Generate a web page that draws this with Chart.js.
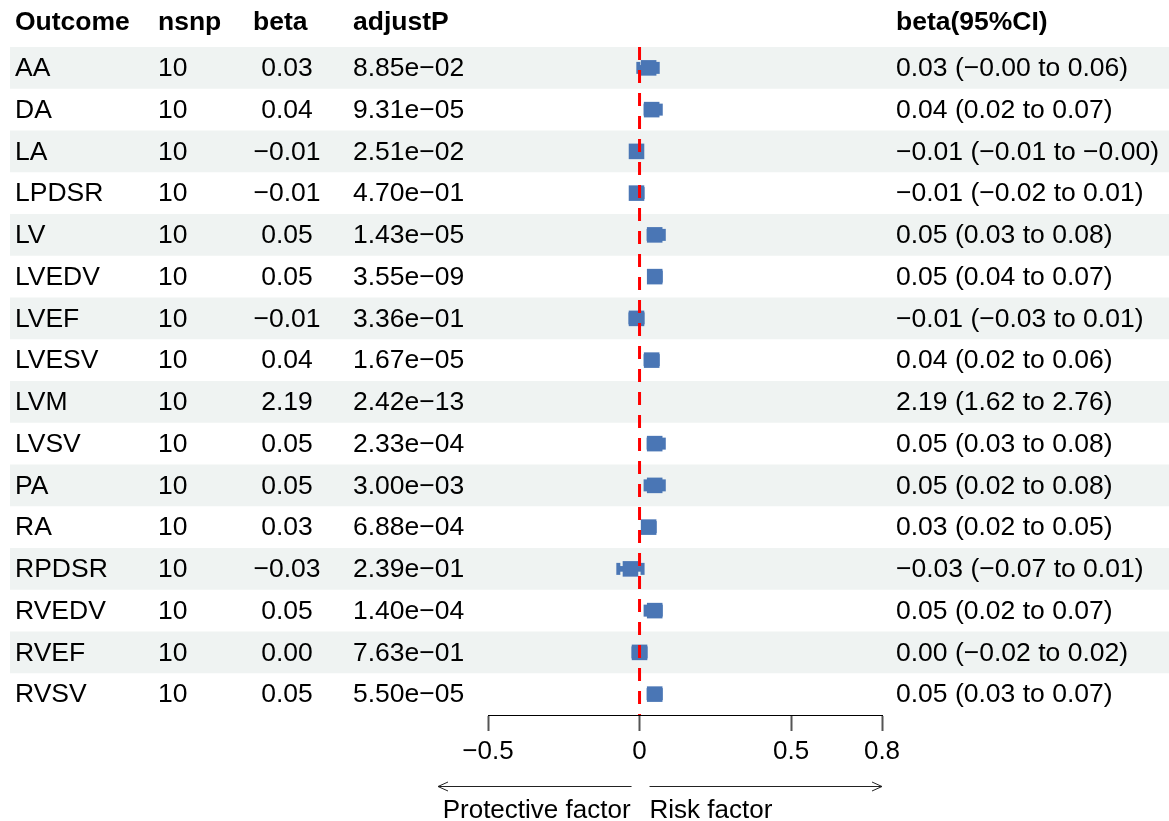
<!DOCTYPE html>
<html>
<head>
<meta charset="utf-8">
<script src="https://cdn.jsdelivr.net/npm/chart.js@4/dist/chart.umd.min.js"></script>
<style>
  html, body { margin: 0; padding: 0; background: #ffffff; }
  #wrap { width: 1169px; height: 821px; }
</style>
</head>
<body>
<div id="wrap"><canvas id="forest" width="1169" height="821"></canvas></div>
<script>
// Forest plot: effect of exposure on cardiac imaging outcomes
const outcomes = ["AA", "DA", "LA", "LPDSR", "LV", "LVEDV", "LVEF", "LVESV",
                  "LVM", "LVSV", "PA", "RA", "RPDSR", "RVEDV", "RVEF", "RVSV"];
const nsnp     = [10, 10, 10, 10, 10, 10, 10, 10, 10, 10, 10, 10, 10, 10, 10, 10];
const beta     = [0.03, 0.04, -0.01, -0.01, 0.05, 0.05, -0.01, 0.04,
                  2.19, 0.05, 0.05, 0.03, -0.03, 0.05, 0.00, 0.05];
const ciLower  = [-0.004, 0.02, -0.01, -0.02, 0.03, 0.04, -0.03, 0.02,
                  1.62, 0.03, 0.02, 0.02, -0.07, 0.02, -0.02, 0.03];
const ciUpper  = [0.06, 0.07, -0.003, 0.01, 0.08, 0.07, 0.01, 0.06,
                  2.76, 0.08, 0.08, 0.05, 0.01, 0.07, 0.02, 0.07];
const adjustP  = [8.85e-02, 9.31e-05, 2.51e-02, 4.70e-01, 1.43e-05, 3.55e-09, 3.36e-01, 1.67e-05,
                  2.42e-13, 2.33e-04, 3.00e-03, 6.88e-04, 2.39e-01, 1.40e-04, 7.63e-01, 5.50e-05];
const xTickValues = [-0.5, 0, 0.5, 0.8];
const xTickLabels = ["\u22120.5", "0", "0.5", "0.8"];
const headers = ["Outcome", "nsnp", "beta", "adjustP", "beta(95%CI)"];
const arrowLabels = ["Protective factor", "Risk factor"];

const FONT = '"Liberation Sans", Arial, Helvetica, sans-serif';
const BLUE = '#4a76b5';
const BAND = '#eff3f2';

const MINUS = '\u2212';
const fmt2 = v => v.toFixed(2).replace('-', MINUS);
const fmtP = p => {
  const parts = p.toExponential(2).split('e');
  const e = parseInt(parts[1], 10);
  return parts[0] + 'e' + (e < 0 ? MINUS : '+') + String(Math.abs(e)).padStart(2, '0');
};

// column layout of the text table
const cols = {
  outcome: 15,
  nsnp: 158,
  betaHead: 253,
  betaCenter: 287,
  p: 353,
  ci: 896
};

const tablePlugin = {
  id: 'forestTable',
  beforeDraw(chart) {
    const ctx = chart.ctx;
    const y = chart.scales.y;
    const step = Math.abs(y.getPixelForValue(1) - y.getPixelForValue(0));
    ctx.save();
    ctx.fillStyle = BAND;
    outcomes.forEach((o, i) => {
      if (i % 2 === 0) {
        const cy = y.getPixelForValue(i);
        ctx.fillRect(10, cy - step / 2, chart.width - 10, step);
      }
    });
    ctx.restore();
  },
  afterDatasetsDraw(chart) {
    const ctx = chart.ctx;
    const x0 = chart.scales.x.getPixelForValue(0);
    const area = chart.chartArea;
    ctx.save();
    ctx.strokeStyle = '#ff0000';
    ctx.lineWidth = 3;
    ctx.setLineDash([13, 10]);
    ctx.beginPath();
    ctx.moveTo(x0, area.top);
    ctx.lineTo(x0, area.bottom);
    ctx.stroke();
    ctx.restore();
  },
  afterDraw(chart) {
    const ctx = chart.ctx;
    const y = chart.scales.y;
    const x = chart.scales.x;
    ctx.save();
    ctx.fillStyle = '#000000';
    ctx.textBaseline = 'middle';

    // header row
    ctx.font = 'bold 26.5px ' + FONT;
    ctx.textAlign = 'left';
    const hy = 23;
    ctx.fillText(headers[0], cols.outcome, hy);
    ctx.fillText(headers[1], cols.nsnp, hy);
    ctx.fillText(headers[2], cols.betaHead, hy);
    ctx.fillText(headers[3], cols.p, hy);
    ctx.fillText(headers[4], cols.ci, hy);

    // body rows
    ctx.font = '26.5px ' + FONT;
    outcomes.forEach((o, i) => {
      const cy = y.getPixelForValue(i) + 1;
      ctx.textAlign = 'left';
      ctx.fillText(o, cols.outcome, cy);
      ctx.fillText(String(nsnp[i]), cols.nsnp, cy);
      ctx.fillText(fmtP(adjustP[i]), cols.p, cy);
      ctx.fillText(fmt2(beta[i]) + ' (' + fmt2(ciLower[i]) + ' to ' + fmt2(ciUpper[i]) + ')', cols.ci, cy);
      ctx.textAlign = 'center';
      ctx.fillText(fmt2(beta[i]), cols.betaCenter, cy);
    });

    // direction arrows under the axis
    const x0 = x.getPixelForValue(0);
    const xr = x.getPixelForValue(0.8);
    const ay = 786.5;
    ctx.strokeStyle = '#222222';
    ctx.lineWidth = 1;
    ctx.beginPath();
    ctx.moveTo(x0 - 8, ay); ctx.lineTo(438, ay);
    ctx.moveTo(448, ay - 4.5); ctx.lineTo(438, ay); ctx.lineTo(448, ay + 4.5);
    ctx.moveTo(x0 + 10, ay); ctx.lineTo(xr, ay);
    ctx.moveTo(xr - 10, ay - 4.5); ctx.lineTo(xr, ay); ctx.lineTo(xr - 10, ay + 4.5);
    ctx.stroke();

    ctx.font = '26px ' + FONT;
    ctx.textBaseline = 'alphabetic';
    ctx.textAlign = 'right';
    ctx.fillText(arrowLabels[0], x0 - 9, 818);
    ctx.textAlign = 'left';
    ctx.fillText(arrowLabels[1], x0 + 10, 818);
    ctx.restore();
  }
};

new Chart(document.getElementById('forest'), {
  type: 'bar',
  data: {
    labels: outcomes,
    datasets: [
      {
        // confidence interval whiskers
        type: 'bar',
        indexAxis: 'y',
        data: outcomes.map((o, i) => [ciLower[i], ciUpper[i]]),
        backgroundColor: BLUE,
        borderWidth: 0,
        barThickness: 5,
        order: 3
      },
      {
        // whisker end caps (lower)
        type: 'scatter',
        data: outcomes.map((o, i) => ({ x: ciLower[i], y: i })),
        pointStyle: 'line',
        rotation: 90,
        pointRadius: 6,
        borderColor: BLUE,
        borderWidth: 4,
        order: 2
      },
      {
        // whisker end caps (upper)
        type: 'scatter',
        data: outcomes.map((o, i) => ({ x: ciUpper[i], y: i })),
        pointStyle: 'line',
        rotation: 90,
        pointRadius: 6,
        borderColor: BLUE,
        borderWidth: 4,
        order: 2
      },
      {
        // point estimates
        type: 'scatter',
        data: outcomes.map((o, i) => ({ x: beta[i], y: i })),
        pointStyle: 'rect',
        pointRadius: 11,
        backgroundColor: BLUE,
        borderColor: BLUE,
        borderWidth: 0,
        order: 1
      }
    ]
  },
  options: {
    responsive: false,
    devicePixelRatio: 1,
    animation: false,
    indexAxis: 'y',
    layout: { padding: { left: 488, right: 287, top: 47, bottom: 56 } },
    plugins: { legend: { display: false }, tooltip: { enabled: false } },
    scales: {
      y: {
        type: 'category',
        labels: outcomes,
        offset: true,
        display: false
      },
      x: {
        type: 'linear',
        position: 'bottom',
        min: -0.5,
        max: 0.8,
        afterBuildTicks: axis => { axis.ticks = xTickValues.map(v => ({ value: v })); },
        afterFit: axis => { axis.height = 50; },
        grid: {
          drawOnChartArea: false,
          drawTicks: true,
          tickLength: 16,
          tickColor: '#555555',
          tickWidth: 2
        },
        border: { display: true, color: '#000000', width: 1 },
        ticks: {
          autoSkip: false,
          maxRotation: 0,
          padding: 5,
          color: '#000000',
          font: { family: FONT, size: 26 },
          callback: (value, index) => xTickLabels[index]
        }
      }
    }
  },
  plugins: [tablePlugin]
});
</script>
</body>
</html>
